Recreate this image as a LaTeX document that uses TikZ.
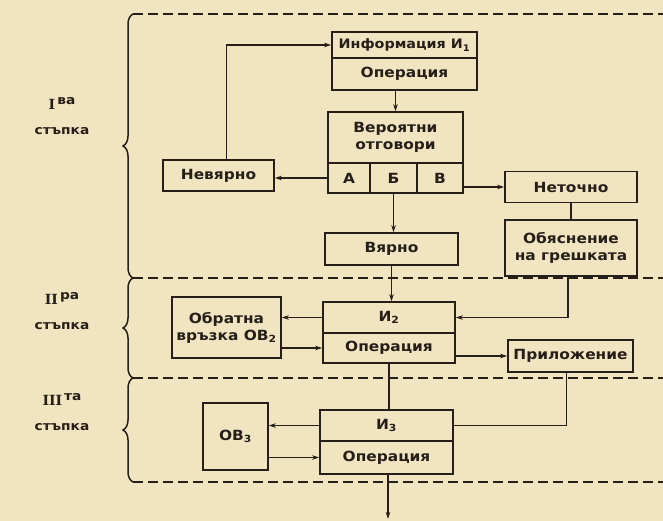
\documentclass[tikz,border=0pt]{standalone}
\usepackage{fontspec}
\setmainfont{DejaVu Sans}[FakeStretch=1.1]
\newfontfamily\numfont{DejaVu Serif}
\usetikzlibrary{arrows.meta,decorations.pathreplacing}
\definecolor{paper}{RGB}{240,229,192}
\definecolor{ink}{RGB}{38,30,24}
\newcommand{\stagenum}[2]{{\numfont\fontsize{14}{14}\selectfont #1}\,\raisebox{0.8ex}{#2}}

\begin{document}
\begin{tikzpicture}[x=1pt, y=-1pt,
  box/.style={draw=ink, line width=1.7pt, rectangle, inner sep=0pt, text=ink,
    font=\bfseries\fontsize{14}{17}\selectfont},
  link/.style={draw=ink, line width=1.5pt},
  arr/.style={link, -{Stealth[length=7pt,width=4.5pt]}},
  stageline/.style={draw=ink, line width=1.4pt, dash pattern=on 10pt off 5pt},
  stagebrace/.style={link, decorate, decoration={brace, amplitude=10pt}},
  stagelabel/.style={text=ink, align=center, font=\bfseries\fontsize{12.5}{25}\selectfont}]
\useasboundingbox[fill=paper] (0,0) rectangle (663,521);

% Stages
\draw[stageline] (133,14) -- (663,14);
\draw[stageline] (133,278) -- (663,278);
\draw[stageline] (133,378) -- (663,378);
\draw[stageline] (133,482) -- (663,482);
\draw[stagebrace] (133,278) -- (133,14);
\draw[stagebrace] (133,378) -- (133,278);
\draw[stagebrace] (133,482) -- (133,378);
\node[stagelabel] (s1) at (62,116) {\stagenum{I}{ва}\\стъпка};
\node[stagelabel] (s2) at (62,311) {\stagenum{II}{ра}\\стъпка};
\node[stagelabel] (s3) at (62,412) {\stagenum{III}{та}\\стъпка};

% Boxes
\node[box, minimum width=145pt, minimum height=26pt, font=\bfseries\fontsize{13}{17}\selectfont] (info) at (404.5,45) {Информация И\textsubscript{1}};
\node[box, minimum width=145pt, minimum height=32pt] (infoop) at (404.5,74) {Операция};
\node[box, minimum width=135pt, minimum height=51pt, align=center] (prob) at (395.5,137.5) {Вероятни\\отговори};
\node[box, minimum width=42pt, minimum height=30pt] (cellA) at (349,178) {А};
\node[box, minimum width=47pt, minimum height=30pt] (cellB) at (393.5,178) {Б};
\node[box, minimum width=46pt, minimum height=30pt] (cellV) at (440,178) {В};
\node[box, minimum width=111pt, minimum height=31pt] (wrong) at (218.5,175.5) {Невярно};
\node[box, minimum width=132pt, minimum height=31pt] (inexact) at (571,187) {Неточно};
\node[box, minimum width=132pt, minimum height=56pt, align=center] (explain) at (571,248) {Обяснение\\на грешката};
\node[box, minimum width=133pt, minimum height=32pt] (right) at (391.5,249) {Вярно};
\node[box, minimum width=132pt, minimum height=31pt] (info2) at (389,317.5) {И\textsubscript{2}};
\node[box, minimum width=132pt, minimum height=30pt] (op2) at (389,348) {Операция};
\node[box, minimum width=125pt, minimum height=32pt] (apply) at (570.5,356) {Приложение};
\node[box, minimum width=109pt, minimum height=61pt, align=center] (fb2) at (226.5,327.5) {Обратна\\връзка ОВ\textsubscript{2}};
\node[box, minimum width=133pt, minimum height=31pt] (info3) at (386.5,425.5) {И\textsubscript{3}};
\node[box, minimum width=133pt, minimum height=33pt] (op3) at (386.5,457.5) {Операция};
\node[box, minimum width=65pt, minimum height=67pt] (fb3) at (235.5,436.5) {ОВ\textsubscript{3}};
\coordinate (exit) at (388,519);

% Links
\draw[arr] (infoop.south -| prob.north) -- (prob.north);
\draw[arr] (cellA.west) -- (cellA.west -| wrong.east);
\draw[arr] ([xshift=8pt]wrong.north) |- (info.west);
\draw[arr] (cellV.east |- inexact.west) -- (inexact.west);
\draw[link] (inexact.south) -- (explain.north);
\draw[arr] ([xshift=-3pt]explain.south) |- (info2.east);
\draw[arr] (cellB.south) -- (cellB.south |- right.north);
\draw[arr] (right.south) -- (right.south |- info2.north);
\draw[arr] (op2.east |- apply.west) -- (apply.west);
\draw[link] ([xshift=-4pt]apply.south) |- (info3.east);
\draw[link] (op2.south) -- (op2.south |- info3.north);
\draw[arr] (op3.south -| exit) -- (exit);
\draw[arr] (info2.west) -- (info2.west -| fb2.east);
\draw[arr] (op2.west -| fb2.east) -- (op2.west);
\draw[arr] (info3.west) -- (info3.west -| fb3.east);
\draw[arr] (op3.west -| fb3.east) -- (op3.west);
\end{tikzpicture}
\end{document}
